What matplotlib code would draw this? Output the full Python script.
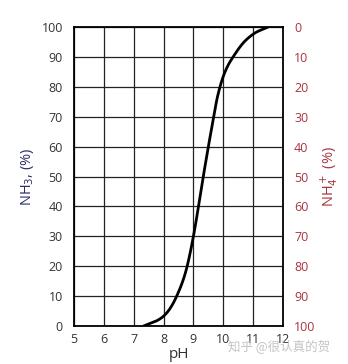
import numpy as np
import matplotlib
matplotlib.use("Agg")
import matplotlib.pyplot as plt

# ── Data ──────────────────────────────────────────────────────────────────────
ph = [7.33, 7.56, 7.8, 8.0, 8.2, 8.44, 8.79, 9.0, 9.17, 9.33, 9.5, 9.68,
      9.78, 9.89, 10.0, 10.15, 10.33, 10.67, 11.0, 11.5]
nh3 = [0, 0.9, 1.9, 3.3, 5.6, 10, 20, 30, 40, 50, 60, 70,
       75.5, 80, 83.5, 87, 90, 94.7, 97.6, 100]

x_ticks = [5, 6, 7, 8, 9, 10, 11, 12]
y_ticks = [0, 10, 20, 30, 40, 50, 60, 70, 80, 90, 100]

LEFT_CLR = "#2b2d6b"
RIGHT_CLR = "#a8343f"
TICK_CLR = "#333333"


def smooth_line(x, y, n=400):
    """Cubic Hermite through the read points, tangents from central differences."""
    x = np.asarray(x, float)
    y = np.asarray(y, float)
    h = np.diff(x)
    d = np.diff(y) / h
    m = np.empty_like(y)
    m[1:-1] = (d[:-1] * h[1:] + d[1:] * h[:-1]) / (h[:-1] + h[1:])
    m[0] = d[0]
    m[-1] = d[-1]
    xs = np.linspace(x[0], x[-1], n)
    idx = np.clip(np.searchsorted(x, xs) - 1, 0, len(x) - 2)
    t = (xs - x[idx]) / h[idx]
    h00 = 2 * t**3 - 3 * t**2 + 1
    h10 = t**3 - 2 * t**2 + t
    h01 = -2 * t**3 + 3 * t**2
    h11 = t**3 - t**2
    ys = (h00 * y[idx] + h10 * h[idx] * m[idx]
          + h01 * y[idx + 1] + h11 * h[idx] * m[idx + 1])
    return xs, ys


plt.rcParams["font.family"] = ["Open Sans", "DejaVu Sans"]

fig = plt.figure(figsize=(3.48, 3.64), dpi=100)
fig.patch.set_facecolor("white")
ax = fig.add_axes([74 / 348, 38 / 364, 209 / 348, 299 / 364])

xs, ys = smooth_line(ph, nh3)
ax.plot(xs, ys, color="black", lw=2.0, solid_capstyle="round", zorder=3)

ax.set_xlim(5, 12)
ax.set_ylim(0, 100)
ax.set_xticks(x_ticks)
ax.set_yticks(y_ticks)
ax.grid(True, color="#222222", lw=0.9)
ax.tick_params(length=0, labelsize=9, colors=TICK_CLR)
ax.tick_params(axis="y", pad=8)
ax.tick_params(axis="x", pad=5)
for s in ax.spines.values():
    s.set_linewidth(1.3)
    s.set_color("black")
ax.set_xlabel("pH", fontsize=11, color=TICK_CLR, labelpad=1)
ax.set_ylabel("NH$_3$, (%)", fontsize=10.5, color=LEFT_CLR, labelpad=4)

# right axis: NH4+ share (inverted)
ax2 = ax.twinx()
ax2.set_ylim(100, 0)
ax2.set_yticks(y_ticks)
ax2.tick_params(length=0, labelsize=9, colors=RIGHT_CLR, pad=8)
for s in ax2.spines.values():
    s.set_visible(False)
ax2.set_ylabel("NH$_4^+$ (%)", fontsize=10.5, color=RIGHT_CLR,
               rotation=90, labelpad=2)

# watermark
fig.text(228 / 348, 1 - 346 / 364, "知乎 @很认真的贺", fontsize=9,
         color="#c4c4c4", va="center", ha="left",
         family=["Noto Sans CJK SC", "DejaVu Sans"])

fig.savefig("out.png", dpi=100, facecolor="white")
